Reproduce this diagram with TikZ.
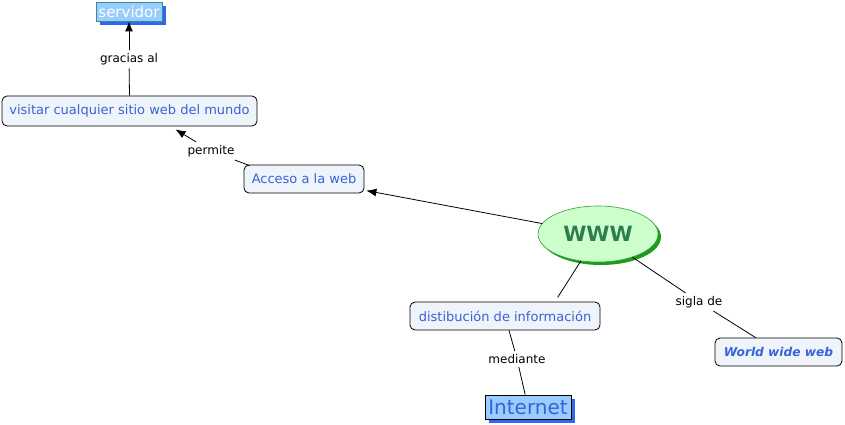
\documentclass[tikz,border=0pt]{standalone}
\usepackage{fontspec}
\setmainfont{DejaVu Sans}
\usetikzlibrary{shapes.geometric,arrows.meta}
\definecolor{boxfill}{HTML}{EEF4FA}
\definecolor{boxtext}{HTML}{3A62D6}
\definecolor{wwwfill}{HTML}{CCFFCC}
\definecolor{wwwdraw}{HTML}{33A033}
\definecolor{wwwshadow}{HTML}{1E9A1E}
\definecolor{wwwtext}{HTML}{2E7D50}
\definecolor{lblue}{HTML}{99CCFF}
\definecolor{shblue}{HTML}{3366EE}
\definecolor{teal}{HTML}{3A8C8C}
\tikzset{
  concept/.style={draw=black, rounded corners=5pt, fill=boxfill, text=boxtext,
    font=\fontsize{13}{15}\selectfont, inner sep=0pt, line width=0.8pt},
  lbl/.style={font=\fontsize{12}{14}\selectfont, text=black, inner sep=3pt, fill=white},
  link/.style={draw=black, line width=0.8pt},
  arr/.style={link, -{Latex[length=10pt,width=8pt]}},
}
\begin{document}
\begin{tikzpicture}[x=1pt,y=-1pt]
\useasboundingbox[fill=white] (0,0) rectangle (845,425);
% nodes
\fill[shblue] (100,6) rectangle (166,25);
\node[draw=teal, fill=lblue, text=white, minimum width=66pt, minimum height=19pt, inner sep=0pt,
  font=\fontsize{15}{17}\selectfont, line width=0.8pt] (servidor) at (129,11.5) {servidor};
\node[concept, minimum width=255pt, minimum height=30pt] (visitar) at (129.5,111) {visitar cualquier sitio web del mundo};
\node[concept, minimum width=120pt, minimum height=28pt] (acceso) at (304,179) {Acceso a la web};
\fill[wwwshadow] (601,237) ellipse [x radius=60pt, y radius=28pt];
\node[ellipse, draw=wwwdraw, fill=wwwfill, text=wwwtext, minimum width=120pt, minimum height=56pt,
  inner sep=0pt, font=\bfseries\fontsize{21}{23}\selectfont, line width=0.6pt] (www) at (598,234) {WWW};
\node[concept, minimum width=190pt, minimum height=28pt] (distib) at (505,316) {distibución de información};
\node[concept, minimum width=127pt, minimum height=28pt, font=\bfseries\itshape\fontsize{12.2}{14}\selectfont] (wwweb) at (778.5,352) {World wide web};
\fill[shblue] (489,399) rectangle (575,423);
\node[draw=black, fill=lblue, text=boxtext, minimum width=86pt, minimum height=24pt, inner sep=0pt,
  font=\fontsize{20}{22}\selectfont, line width=0.8pt] (internet) at (528,407) {Internet};
% labels
\node[lbl] (gracias) at (129,59.5) {gracias al};
\node[lbl] (permite) at (211,151) {permite};
\node[lbl] (sigla) at (699,302) {sigla de};
\node[lbl] (mediante) at (517,359) {mediante};
% connectors
\draw[link] (visitar.north) -- (gracias);
\draw[arr] (gracias) -- (servidor.south);
\draw[link] ([xshift=6pt,yshift=-1pt]acceso.north west) -- (permite);
\draw[arr] (permite) -- ([xshift=46pt,yshift=-3pt]visitar.south);
\draw[arr, shorten >=2pt] (www) -- (acceso);
\draw[link, shorten >=5pt] (www) -- ([xshift=50pt]distib.north);
\draw[link] (www) -- (sigla);
\draw[link] (sigla) -- (wwweb);
\draw[link] (distib) -- (mediante);
\draw[link] (mediante) -- (internet);
\end{tikzpicture}
\end{document}
